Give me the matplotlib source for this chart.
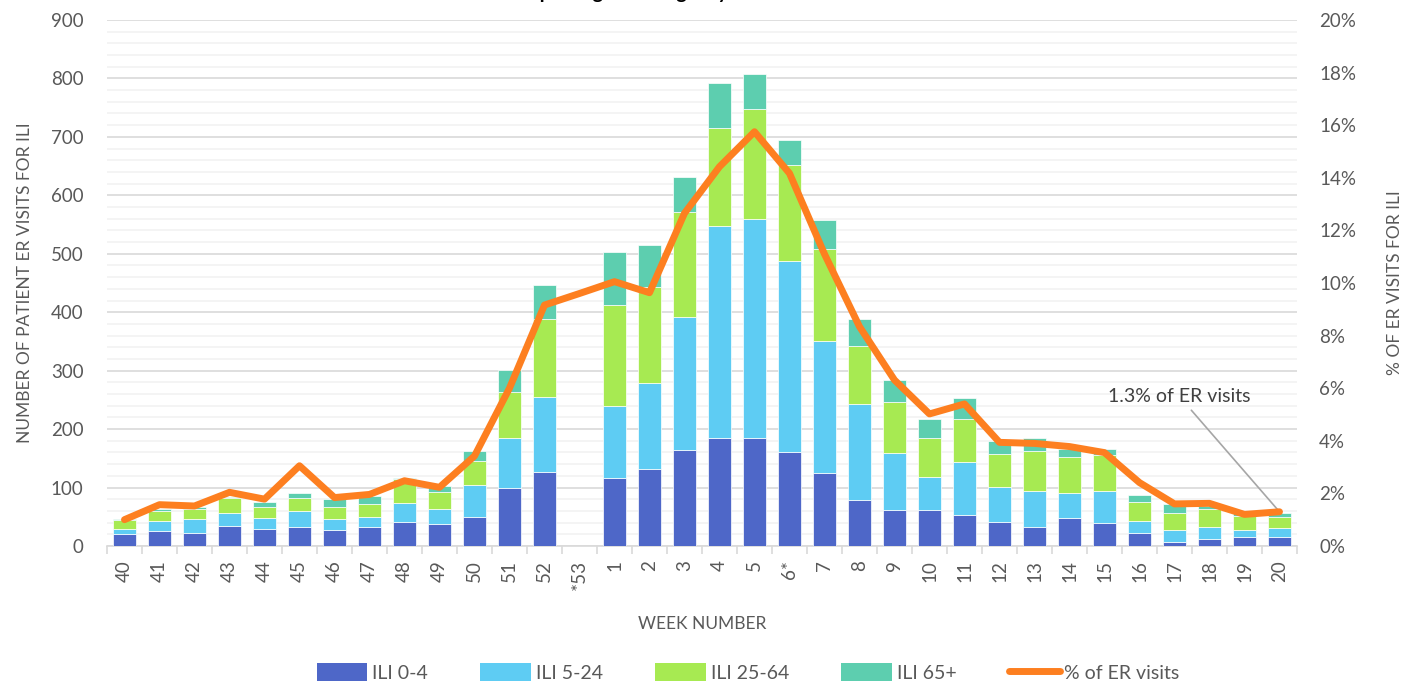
import numpy as np
import matplotlib
matplotlib.use('Agg')
import matplotlib.pyplot as plt
from matplotlib.patches import Patch
from matplotlib.lines import Line2D

plt.rcParams['font.family'] = ['Lato', 'DejaVu Sans']

# week labels (flu season, week 40 to week 20)
weeks = ['40', '41', '42', '43', '44', '45', '46', '47', '48', '49', '50', '51', '52', '*53',
         '1', '2', '3', '4', '5', '6*', '7', '8', '9', '10', '11', '12', '13', '14', '15',
         '16', '17', '18', '19', '20']

# number of patient ER visits for ILI by age group
ili_0_4 = [20, 25, 23, 35, 29, 33, 27, 33, 41, 38, 50, 99, 127, 0,
           117, 131, 164, 185, 184, 161, 125, 78, 62, 62, 53, 41, 33, 48, 40, 23, 7, 12, 16, 15]
ili_5_24 = [9, 18, 24, 22, 19, 26, 19, 17, 33, 26, 54, 86, 128, 0,
            123, 147, 227, 363, 376, 327, 225, 165, 97, 56, 91, 60, 61, 43, 54, 19, 20, 21, 12, 16]
ili_25_64 = [15, 17, 17, 25, 19, 23, 21, 21, 40, 28, 41, 79, 133, 0,
             173, 165, 180, 168, 188, 164, 158, 99, 87, 67, 73, 56, 69, 61, 61, 33, 29, 31, 23, 18]
ili_65 = [2, 3, 3, 2, 9, 8, 14, 14, 3, 11, 17, 37, 58, 0,
          90, 72, 60, 77, 60, 42, 49, 47, 38, 32, 37, 23, 21, 14, 11, 13, 15, 4, 5, 7]

# % of ER visits for ILI
pct_er = [1.0, 1.57, 1.52, 2.04, 1.78, 3.05, 1.84, 1.96, 2.48, 2.23, 3.42, 6.0, 9.16, 9.6,
          10.05, 9.63, 12.65, 14.42, 15.75, 14.17, 11.1, 8.34, 6.31, 5.02, 5.4, 3.94, 3.9,
          3.78, 3.55, 2.41, 1.6, 1.62, 1.2, 1.3]

series = [('ILI 0-4', ili_0_4, '#4E67C8'),
          ('ILI 5-24', ili_5_24, '#5ECCF3'),
          ('ILI 25-64', ili_25_64, '#A7EA52'),
          ('ILI 65+', ili_65, '#5DCEAF')]
line_color = '#FD7F20'
grey = '#595959'

fig = plt.figure(figsize=(14.17, 6.84), dpi=100)
ax = fig.add_axes([0.0755, 0.2018, 0.8398, 0.769])

x = np.arange(len(weeks))
bottom = np.zeros(len(weeks))
for name, vals, col in series:
    ax.bar(x, vals, width=0.66, bottom=bottom, color=col, edgecolor='#ffffff',
           linewidth=0.5, zorder=3)
    bottom = bottom + np.array(vals)

ax.set_xlim(-0.5, len(weeks) - 0.5)
ax.set_ylim(0, 900)
ax.set_yticks(np.arange(0, 901, 100))
ax.set_yticks(np.arange(0, 901, 20), minor=True)
ax.grid(axis='y', which='major', color='#d9d9d9', linewidth=1.2, zorder=0)
ax.grid(axis='y', which='minor', color='#f2f2f2', linewidth=1.2, zorder=0)
ax.set_xticks(x)
ax.set_xticklabels(weeks, rotation=90, va='top', ha='center')
ax.set_xticks(np.arange(-0.5, len(weeks), 1), minor=True)
ax.tick_params(axis='x', which='major', length=0, pad=10, labelsize=13.5, labelcolor=grey)
ax.tick_params(axis='x', which='minor', length=6, color='#d9d9d9', width=1.2)
ax.tick_params(axis='y', which='both', length=0, labelsize=13.5, labelcolor=grey, pad=17)
for s in ['top', 'left', 'right']:
    ax.spines[s].set_visible(False)
ax.spines['bottom'].set_color('#d9d9d9')
ax.spines['bottom'].set_linewidth(1.2)
ax.set_ylabel('NUMBER OF PATIENT ER VISITS FOR ILI', fontsize=12.5, color=grey, labelpad=13)
ax.set_xlabel('WEEK NUMBER', fontsize=12.5, color=grey, labelpad=19)

ax2 = ax.twinx()
ax2.plot(x, pct_er, color=line_color, linewidth=5, solid_joinstyle='round',
         solid_capstyle='round', zorder=5)
ax2.set_ylim(0, 20)
ax2.set_yticks(np.arange(0, 21, 2))
ax2.set_yticklabels(['{}%'.format(v) for v in range(0, 21, 2)])
ax2.tick_params(axis='y', length=0, labelsize=13.5, labelcolor=grey, pad=16)
for s in ax2.spines.values():
    s.set_visible(False)
ax2.set_ylabel('% OF ER VISITS FOR ILI', fontsize=12.5, color=grey, labelpad=22)

ax2.annotate('1.3% of ER visits', xy=(x[-1], pct_er[-1]), xytext=(30.15, 5.67),
             ha='center', va='center', fontsize=14, color='#404040',
             arrowprops=dict(arrowstyle='-', color='#a6a6a6', lw=1.2, shrinkA=2, shrinkB=0))

# title is mostly cut off at the top edge in the original
fig.text(0.425, 1.001, 'Number of Patients Reporting to Emergency Rooms with ILI',
         ha='center', va='baseline', fontsize=14, fontweight='bold', color='#000000')

handles = [Patch(facecolor=col, edgecolor='none') for _, _, col in series]
handles.append(Line2D([0], [0], color=line_color, linewidth=5, solid_capstyle='round'))
labels = [name for name, _, _ in series] + ['% of ER visits']
fig.legend(handles, labels, loc='lower center', bbox_to_anchor=(0.528, -0.022), ncol=5,
           frameon=False, fontsize=14, labelcolor=grey, handlelength=2.6, handleheight=1.0,
           handletextpad=0.25, columnspacing=2.7)

fig.savefig('out.png', dpi=100)
